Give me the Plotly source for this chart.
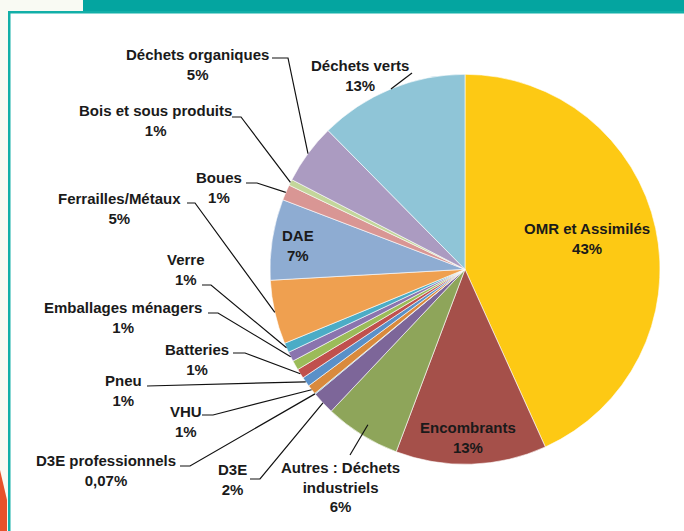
import math
import plotly.graph_objects as go

# ---------------- data (clockwise from 12 o'clock) ----------------
categories = ["OMR et Assimilés", "Encombrants", "Autres : Déchets<br>industriels", "D3E",
              "D3E professionnels", "VHU", "Pneu", "Batteries", "(sans étiquette)",
              "Emballages ménagers", "Verre", "Ferrailles/Métaux", "DAE", "Boues",
              "Bois et sous produits", "Déchets organiques", "Déchets verts"]
values = [43.25, 12.5, 6.3, 1.9, 0.07, 0.8, 0.8, 0.8, 0.8, 0.8, 0.8, 5.3, 6.7, 1.3, 0.5, 5.0, 12.4]
pct_labels = ["43%", "13%", "6%", "2%", "0,07%", "1%", "1%", "1%", "", "1%", "1%",
              "5%", "7%", "1%", "1%", "5%", "13%"]
colors = ["#FDC914", "#A5504A", "#8EA55A", "#7D6699", "#3E9BB5", "#D98A3D", "#5A90C8",
          "#C0504D", "#9BBB59", "#8A74AE", "#4BACC6", "#EFA050", "#8EACD2", "#D99694",
          "#C3D69B", "#AB9BC1", "#8FC5D7"]

W, H = 684, 531
CX, CY, R = 465.0, 269.3, 195.0


def px(x):
    return x / W


def py(y):
    return 1 - y / H


fig = go.Figure()
fig.add_trace(go.Pie(
    labels=categories, values=values, sort=False, direction="clockwise", rotation=0,
    marker=dict(colors=colors, line=dict(color="white", width=0.6)),
    textinfo="none", hoverinfo="label+percent", showlegend=False,
    domain=dict(x=[px(CX - R), px(CX + R)], y=[py(CY + R), py(CY - R)]),
))

# mid-angle of each slice, derived from the data
total = sum(values)
mid_frac = []
acc = 0.0
for v in values:
    mid_frac.append((acc + v / 2) / total)
    acc += v


def edge_point(i, k=1.0):
    a = 2 * math.pi * mid_frac[i]
    return CX + k * R * math.sin(a), CY - k * R * math.cos(a)


FONT = dict(family="Liberation Sans, Arial, sans-serif", size=15, color="#1a1a1a", weight="bold")

shapes = []
annotations = []

# ---- page decoration ----
shapes.append(dict(type="rect", xref="paper", yref="paper", x0=0, x1=1, y0=0, y1=1,
                   fillcolor="#F9FAF3", line=dict(width=0), layer="below"))
shapes.append(dict(type="rect", xref="paper", yref="paper", x0=px(9), x1=1, y0=0, y1=py(12),
                   fillcolor="white", line=dict(width=0), layer="below"))
shapes.append(dict(type="rect", xref="paper", yref="paper", x0=px(83), x1=1, y0=py(12), y1=1,
                   fillcolor="#04A5A0", line=dict(width=0), layer="below"))
shapes.append(dict(type="rect", xref="paper", yref="paper", x0=px(8), x1=1, y0=py(13.5), y1=py(11),
                   fillcolor="#12AFA8", line=dict(width=0), layer="below"))
shapes.append(dict(type="rect", xref="paper", yref="paper", x0=px(8), x1=px(10.5), y0=0, y1=py(11),
                   fillcolor="#12AFA8", line=dict(width=0), layer="below"))
shapes.append(dict(type="path", xref="paper", yref="paper",
                   path=f"M 0 {py(470)} L {px(7)} {py(500)} L {px(7)} 0 L 0 0 Z",
                   fillcolor="#E8522A", line=dict(width=0), layer="below"))


def label(x, y, text):
    annotations.append(dict(x=px(x), y=py(y), xref="paper", yref="paper", showarrow=False,
                            xanchor="center", yanchor="middle",
                            text=text, font=FONT, align="center"))


# ---- inside labels ----
inside = {0: (587, 238), 1: (468, 437), 12: (298, 246)}
for i, (x, y) in inside.items():
    label(x, y, f"{categories[i]}<br>{pct_labels[i]}")

# ---- outside labels: (text centre), (elbow start), (elbow end), radius factor ----
outside = {
    15: ((197, 64), (272, 58), (288, 58), 1.0),
    16: ((360, 76), None, (412, 73), 1.0),
    14: ((155, 121), (232, 117), (241, 117), 1.0),
    13: ((219, 188), (246, 183), (257, 183), 1.0),
    11: ((119, 208), (187, 203), (195, 203), 1.0),
    10: ((186, 269), (202, 285), (211, 285), 1.0),
    9: ((123, 317), (208, 313), (218, 313), 1.0),
    7: ((197, 359), (233, 353), (245, 353), 1.0),
    6: ((123, 390), None, (147, 386), 1.0),
    5: ((186, 421), (202, 415), (213, 415), 1.0),
    4: ((106, 470), (180, 466), (190, 466), 1.0),
    3: ((232, 479), (250, 479), (260, 479), 1.0),
    2: ((340, 487), None, (350, 455), 0.94),
}
for i, (tc, e0, e1, k) in outside.items():
    label(tc[0], tc[1], f"{categories[i]}<br>{pct_labels[i]}")
    ex, ey = edge_point(i, k)
    pts = ([e0] if e0 else []) + [e1, (ex, ey)]
    path = "M " + " L ".join(f"{px(x)} {py(y)}" for x, y in pts)
    shapes.append(dict(type="path", xref="paper", yref="paper", path=path,
                       line=dict(color="#111111", width=1.2)))

fig.update_layout(
    width=W, height=H, margin=dict(l=0, r=0, t=0, b=0),
    paper_bgcolor="white", plot_bgcolor="white",
    shapes=shapes, annotations=annotations,
)

fig.write_html("out.html", config={"displayModeBar": False},
               post_script="document.body.style.margin='0px';")
